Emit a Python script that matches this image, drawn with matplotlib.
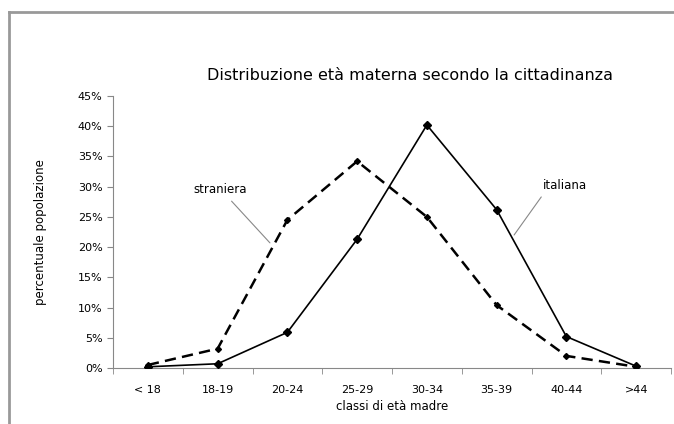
import numpy as np
import matplotlib.pyplot as plt
from matplotlib.lines import Line2D
from matplotlib.ticker import FixedLocator, FuncFormatter

classi = ['< 18', '18-19', '20-24', '25-29', '30-34', '35-39', '40-44', '>44']
italiana = [0.2, 0.7, 5.9, 21.3, 40.2, 26.2, 5.2, 0.3]
straniera = [0.5, 3.2, 24.5, 34.2, 25.0, 10.4, 2.0, 0.2]
yticks = [0, 5, 10, 15, 20, 25, 30, 35, 40, 45]

plt.rcParams['font.family'] = ['DejaVu Sans']

fig = plt.figure(figsize=(6.74, 4.24), dpi=100)
ax = fig.add_axes([113/674, 1 - 368/424, (671-113)/674, (368-96)/424])

x = np.arange(len(classi))
ax.plot(x, italiana, color='black', lw=1.2, marker='D', ms=4, zorder=3)
ax.plot(x, straniera, color='black', lw=1.8, ls=(0, (4.5, 2.5)), marker='D', ms=3, zorder=3)

ax.set_xlim(-0.5, len(classi) - 0.5)
ax.set_ylim(0, 45)
ax.set_yticks(yticks)
ax.yaxis.set_major_formatter(FuncFormatter(lambda v, p: '%d%%' % v))
ax.set_xticks(x)
ax.set_xticklabels(classi)
ax.xaxis.set_minor_locator(FixedLocator(np.arange(-0.5, len(classi), 1)))
ax.tick_params(axis='x', which='major', length=0, labelsize=8, pad=12)
ax.tick_params(axis='x', which='minor', length=4, color='#888888', direction='out')
ax.tick_params(axis='y', length=4, color='#888888', labelsize=8)

for s in ['top', 'right']:
    ax.spines[s].set_visible(False)
for s in ['left', 'bottom']:
    ax.spines[s].set_color('#888888')

ax.set_xlabel('classi di età madre', fontsize=8.5, labelpad=4)
ax.set_ylabel('percentuale popolazione', fontsize=8.5, labelpad=22)
fig.text(410/674, 1 - 76/424, 'Distribuzione età materna secondo la cittadinanza',
         ha='center', va='center', fontsize=11.5)

# etichette con linee di richiamo
ax.text(1.03, 29.6, 'straniera', fontsize=8.5, ha='center', va='center')
ax.annotate('', xy=(1.75, 20.7), xytext=(1.2, 27.6),
            arrowprops=dict(arrowstyle='-', color='#888888', lw=0.8, shrinkA=0, shrinkB=0))
ax.text(5.98, 30.2, 'italiana', fontsize=8.5, ha='center', va='center')
ax.annotate('', xy=(5.25, 22.0), xytext=(5.64, 28.3),
            arrowprops=dict(arrowstyle='-', color='#888888', lw=0.8, shrinkA=0, shrinkB=0))

# cornice esterna
fig.add_artist(Line2D([9/674, 9/674], [0, 1 - 12/424], color='#999999', lw=2))
fig.add_artist(Line2D([9/674, 1], [1 - 12/424, 1 - 12/424], color='#999999', lw=2))

fig.savefig('out.png', dpi=100)
